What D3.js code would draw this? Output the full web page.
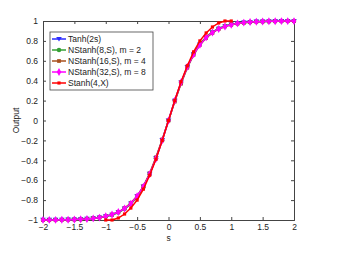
<!DOCTYPE html>
<html>
<head>
<meta charset="utf-8">
<script src="https://cdn.jsdelivr.net/npm/d3@7"></script>
<style>
  body { margin: 0; background: #fff; }
  text { font-family: "Liberation Sans", Arial, sans-serif; }
</style>
</head>
<body>
<svg width="341" height="264"></svg>
<script>
const svg = d3.select("svg");

// sample points s = -2 .. 2, step 0.1
const sVals = [-2,-1.9,-1.8,-1.7,-1.6,-1.5,-1.4,-1.3,-1.2,-1.1,-1,-0.9,-0.8,-0.7,-0.6,-0.5,-0.4,-0.3,-0.2,-0.1,0,
               0.1,0.2,0.3,0.4,0.5,0.6,0.7,0.8,0.9,1,1.1,1.2,1.3,1.4,1.5,1.6,1.7,1.8,1.9,2];
const tanh2s = [-0.999,-0.999,-0.999,-0.998,-0.997,-0.995,-0.993,-0.989,-0.984,-0.976,-0.964,-0.947,-0.922,-0.885,-0.834,-0.762,-0.664,-0.537,-0.380,-0.197,0,
                0.197,0.380,0.537,0.664,0.762,0.834,0.885,0.922,0.947,0.964,0.976,0.984,0.989,0.993,0.995,0.997,0.998,0.999,0.999,0.999];
const nstanh8 = [-0.999,-0.999,-0.998,-0.998,-0.996,-0.995,-0.992,-0.988,-0.983,-0.975,-0.965,-0.950,-0.925,-0.890,-0.840,-0.770,-0.670,-0.540,-0.380,-0.200,0,
                 0.200,0.380,0.540,0.670,0.770,0.840,0.890,0.925,0.950,0.965,0.975,0.983,0.988,0.992,0.995,0.996,0.998,0.998,0.999,0.999];
const nstanh16 = [-1.000,-0.999,-0.999,-0.998,-0.997,-0.995,-0.993,-0.989,-0.983,-0.975,-0.962,-0.945,-0.920,-0.880,-0.830,-0.760,-0.660,-0.530,-0.370,-0.190,0,
                  0.190,0.370,0.530,0.660,0.760,0.830,0.880,0.920,0.945,0.962,0.975,0.983,0.989,0.993,0.995,0.997,0.998,0.999,0.999,1.000];
const nstanh32 = [-0.999,-0.999,-0.999,-0.998,-0.997,-0.995,-0.993,-0.990,-0.984,-0.976,-0.963,-0.945,-0.920,-0.885,-0.835,-0.760,-0.665,-0.540,-0.385,-0.200,0,
                  0.200,0.385,0.540,0.665,0.760,0.835,0.885,0.920,0.945,0.963,0.976,0.984,0.990,0.993,0.995,0.997,0.998,0.999,0.999,0.999];
// Stanh(4,X) only sampled on -1 .. 1
const sShort = [-1,-0.9,-0.8,-0.7,-0.6,-0.5,-0.4,-0.3,-0.2,-0.1,0,0.1,0.2,0.3,0.4,0.5,0.6,0.7,0.8,0.9,1];
const stanh4 = [-1,-1,-0.98,-0.94,-0.88,-0.80,-0.69,-0.55,-0.39,-0.20,0,0.20,0.39,0.55,0.69,0.80,0.88,0.94,0.98,1,1];

const xTicks = [-2,-1.5,-1,-0.5,0,0.5,1,1.5,2];
const yTicks = [-1,-0.8,-0.6,-0.4,-0.2,0,0.2,0.4,0.6,0.8,1];

const series = [
  {name: "Tanh(2s)",            xs: sVals,  ys: tanh2s,   color: "#2b2bff", symbol: "tri",              size: 18},
  {name: "NStanh(8,S), m = 2",  xs: sVals,  ys: nstanh8,  color: "#35a035", symbol: d3.symbolCircle,    size: 16},
  {name: "NStanh(16,S), m = 4", xs: sVals,  ys: nstanh16, color: "#a8501e", symbol: d3.symbolSquare,    size: 14},
  {name: "NStanh(32,S), m = 8", xs: sVals,  ys: nstanh32, color: "#ff00ff", symbol: d3.symbolDiamond,   size: 18},
  {name: "Stanh(4,X)",          xs: sShort, ys: stanh4,   color: "#ff0000", symbol: d3.symbolSquare,    size: 10}
];

const L = 43, R = 294, T = 21, B = 220;
const x = d3.scaleLinear().domain([-2, 2]).range([L, R]);
const y = d3.scaleLinear().domain([-1, 1]).range([B, T]);

// downward triangle like MATLAB 'v'
const triDown = {draw(ctx, size) {
  const h = Math.sqrt(size) * 1.1;
  ctx.moveTo(-h * 0.6, -h * 0.45);
  ctx.lineTo(h * 0.6, -h * 0.45);
  ctx.lineTo(0, h * 0.55);
  ctx.closePath();
}};
function symPath(s, size) {
  return d3.symbol().type(s === "tri" ? triDown : s).size(size)();
}

const axisColor = "#444";
// axes box with inward ticks
const gx = svg.append("g").attr("transform", `translate(0,${B})`)
  .call(d3.axisBottom(x).tickValues(xTicks).tickSize(-3).tickPadding(4).tickFormat(d3.format("")));
const gxt = svg.append("g").attr("transform", `translate(0,${T})`)
  .call(d3.axisTop(x).tickValues(xTicks).tickSize(-3).tickFormat(""));
const gy = svg.append("g").attr("transform", `translate(${L},0)`)
  .call(d3.axisLeft(y).tickValues(yTicks).tickSize(-3).tickPadding(5).tickFormat(d3.format("")));
const gyr = svg.append("g").attr("transform", `translate(${R},0)`)
  .call(d3.axisRight(y).tickValues(yTicks).tickSize(-3).tickFormat(""));
[gx, gxt, gy, gyr].forEach(g => {
  g.select(".domain").attr("stroke", axisColor);
  g.selectAll(".tick line").attr("stroke", axisColor);
  g.selectAll("text").attr("font-size", 8.5).attr("fill", "#222")
    .attr("font-family", "Liberation Sans, Arial, sans-serif");
});

// curves
const line = d3.line().x(d => x(d[0])).y(d => y(d[1]));
series.forEach(sr => {
  const pts = sr.xs.map((v, i) => [v, sr.ys[i]]);
  svg.append("path").datum(pts)
    .attr("d", line).attr("fill", "none")
    .attr("stroke", sr.color).attr("stroke-width", 1.5);
  svg.append("g").selectAll("path").data(pts).join("path")
    .attr("transform", d => `translate(${x(d[0])},${y(d[1])})`)
    .attr("d", symPath(sr.symbol, sr.size))
    .attr("fill", sr.color);
});

// axis labels
svg.append("text").attr("x", (L + R) / 2).attr("y", 241)
  .attr("text-anchor", "middle").attr("font-size", 8.5).attr("fill", "#222").text("s");
svg.append("text").attr("transform", `translate(19,${(T + B) / 2}) rotate(-90)`)
  .attr("text-anchor", "middle").attr("font-size", 8.5).attr("fill", "#222").text("Output");

// legend
const lg = svg.append("g");
lg.append("rect").attr("x", 50).attr("y", 32).attr("width", 103).attr("height", 58)
  .attr("fill", "#fff").attr("stroke", axisColor).attr("stroke-width", 0.8);
series.forEach((sr, i) => {
  const ly = 39 + i * 11;
  lg.append("line").attr("x1", 52).attr("x2", 66).attr("y1", ly).attr("y2", ly)
    .attr("stroke", sr.color).attr("stroke-width", 1.5);
  lg.append("path").attr("transform", `translate(59,${ly})`)
    .attr("d", symPath(sr.symbol, sr.size)).attr("fill", sr.color);
  lg.append("text").attr("x", 68).attr("y", ly + 3).attr("font-size", 8.5)
    .attr("fill", "#222").text(sr.name);
});
</script>
</body>
</html>
